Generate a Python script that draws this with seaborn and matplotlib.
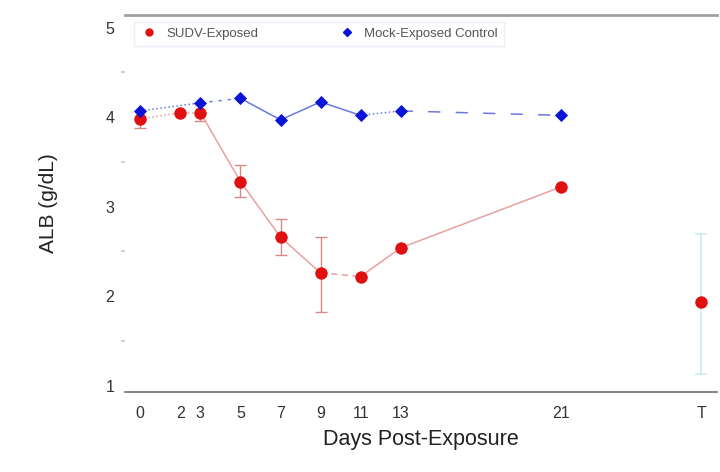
import numpy as np
import pandas as pd
import matplotlib
matplotlib.use("Agg")
import matplotlib.pyplot as plt
import seaborn as sns
from matplotlib.lines import Line2D

# Albumin time course, g/dL
sudv_days = [0, 2, 3, 5, 7, 9, 11, 13, 21, 28]
sudv_alb = [3.98, 4.05, 4.05, 3.28, 2.66, 2.26, 2.22, 2.54, 3.22, 1.93]
sudv_err_low = [3.88, 4.05, 3.96, 3.11, 2.46, 1.82, 2.22, 2.54, 3.22, 1.13]
sudv_err_high = [3.98, 4.05, 4.05, 3.47, 2.86, 2.66, 2.22, 2.54, 3.22, 2.70]

mock_days = [0, 3, 5, 7, 9, 11, 13, 21]
mock_alb = [4.07, 4.16, 4.21, 3.97, 4.17, 4.02, 4.07, 4.02]

x_ticks = [0, 2, 3, 5, 7, 9, 11, 13, 21, 28]
x_ticklabels = ["0", "2", "3", "5", "7", "9", "11", "13", "21", "T"]
y_ticks = [1, 2, 3, 4, 5]

sns.set_style("white")
plt.rcParams["font.family"] = ["Liberation Sans", "DejaVu Sans"]

fig = plt.figure(figsize=(7.2, 4.72), dpi=100)
ax = fig.add_axes([0.174, 0.1695, 0.822, 0.7985])

red = "#e01010"
blue = "#0a14d8"
red_line = "#e8a0a0"
blue_line = "#6a78e0"

# connecting segments between consecutive time points
sudv_styles = [":", ":", "-", "-", "-", (0, (4, 3)), "-", "-"]
for i, ls in enumerate(sudv_styles):
    ax.plot(sudv_days[i:i + 2], sudv_alb[i:i + 2], color=red_line, lw=1.1,
            ls=ls, zorder=2)
mock_styles = [":", (0, (2, 4)), "-", "-", "-", ":", (0, (8, 10))]
for i, ls in enumerate(mock_styles):
    ax.plot(mock_days[i:i + 2], mock_alb[i:i + 2], color=blue_line, lw=1.1,
            ls=ls, zorder=2)

# error bars (terminal point drawn in pale cyan)
lo = np.array(sudv_alb) - np.array(sudv_err_low)
hi = np.array(sudv_err_high) - np.array(sudv_alb)
ax.errorbar(sudv_days[:-1], sudv_alb[:-1], yerr=[lo[:-1], hi[:-1]], fmt="none",
            ecolor="#d88a8a", elinewidth=1.0, capsize=4, capthick=1.0, zorder=1)
ax.errorbar(sudv_days[-1:], sudv_alb[-1:], yerr=[lo[-1:], hi[-1:]], fmt="none",
            ecolor="#cfeaf2", elinewidth=1.2, capsize=4, capthick=1.2, zorder=1)

sudv_df = pd.DataFrame({"day": sudv_days, "alb": sudv_alb})
mock_df = pd.DataFrame({"day": mock_days, "alb": mock_alb})
sns.scatterplot(data=mock_df, x="day", y="alb", ax=ax, color=blue, marker="D",
                s=45, edgecolor=blue, linewidth=0, zorder=4)
sns.scatterplot(data=sudv_df, x="day", y="alb", ax=ax, color=red, marker="o",
                s=80, edgecolor=red, linewidth=0, zorder=3)

ax.set_xlim(-0.75, 28.8)
ax.set_ylim(0.93, 5.14)
ax.set_xticks(x_ticks)
ax.set_xticklabels(x_ticklabels)
ax.set_yticks(y_ticks)
ax.set_yticks([1.5, 2.5, 3.5, 4.5], minor=True)
ax.tick_params(axis="both", which="major", length=0, labelsize=11.5,
               colors="#333333", pad=8)
ax.tick_params(axis="y", which="minor", length=3, width=1.2,
               color="#c8c8c8", left=True)
ax.tick_params(axis="x", which="major", pad=10)

ax.set_xlabel("Days Post-Exposure", fontsize=15.5, color="#222222", labelpad=6)
ax.set_ylabel("ALB (g/dL)", fontsize=15, color="#222222", labelpad=34)

for side in ["left", "right"]:
    ax.spines[side].set_visible(False)
ax.spines["top"].set_color("#a0a0a0")
ax.spines["top"].set_linewidth(2)
ax.spines["bottom"].set_color("#707070")
ax.spines["bottom"].set_linewidth(1.2)

handles = [
    Line2D([], [], ls="none", marker="o", color=red, markersize=5),
    Line2D([], [], ls="none", marker="D", color=blue, markersize=4),
]
leg = ax.legend(handles, ["SUDV-Exposed", "Mock-Exposed Control"], ncol=2,
                loc="upper left", bbox_to_anchor=(0.004, 1.0), fontsize=9.5,
                frameon=True, fancybox=False, columnspacing=6.0,
                handletextpad=0.6, borderpad=0.45, handlelength=1.4)
leg.get_frame().set_edgecolor("#e4ecf4")
leg.get_frame().set_linewidth(1)
for t in leg.get_texts():
    t.set_color("#555555")

fig.savefig("out.png", dpi=100)
